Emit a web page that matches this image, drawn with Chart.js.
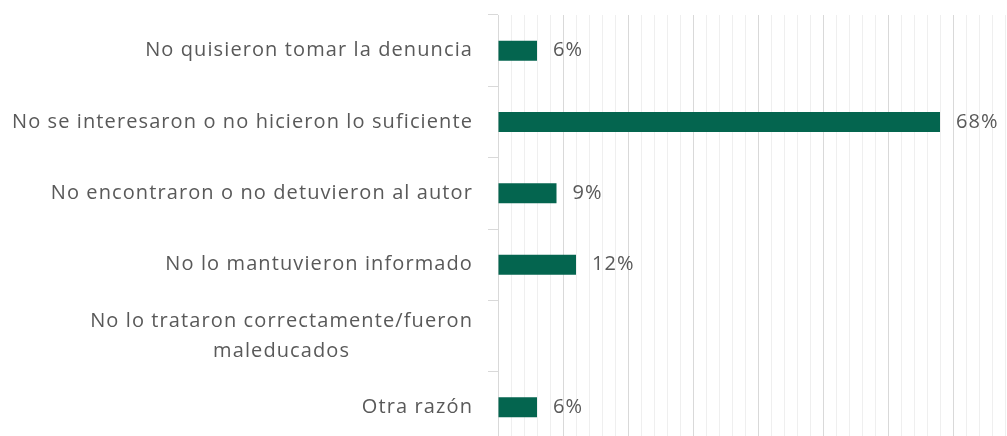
<!DOCTYPE html>
<html>
<head>
<meta charset="utf-8">
<script src="https://cdn.jsdelivr.net/npm/chart.js@4/dist/chart.umd.min.js"></script>
<style>
  html, body { margin: 0; padding: 0; background: #fff; }
  #wrap { width: 1007px; height: 436px; overflow: hidden; position: relative; }
  #chart { position: absolute; left: 0; top: 0; }
</style>
</head>
<body>
<div id="wrap"><canvas id="chart" width="1020" height="444"></canvas></div>
<script>
const razones = [
  'No quisieron tomar la denuncia',
  'No se interesaron o no hicieron lo suficiente',
  'No encontraron o no detuvieron al autor',
  'No lo mantuvieron informado',
  ['No lo trataron correctamente/fueron', 'maleducados'],
  'Otra razón'
];
const porcentajes = [6, 68, 9, 12, null, 6];

const textColor = '#595959';
const labelFont = '20px "Open Sans", sans-serif';
const spacing = '1.1px';

// etiquetas del eje y, alineadas a la derecha y centradas por línea
const yLabels = {
  id: 'yLabels',
  afterDraw(chart) {
    const ctx = chart.ctx, y = chart.scales.y;
    const right = y.right - 25;
    ctx.save();
    ctx.font = labelFont;
    ctx.letterSpacing = spacing;
    ctx.fillStyle = textColor;
    ctx.textAlign = 'center';
    ctx.textBaseline = 'middle';
    razones.forEach((lab, i) => {
      const lines = Array.isArray(lab) ? lab : [lab];
      const w = Math.max(...lines.map(l => ctx.measureText(l).width));
      const cy = y.getPixelForValue(i);
      const lh = 30;
      lines.forEach((l, j) => {
        ctx.fillText(l, right - w / 2, cy + (j - (lines.length - 1) / 2) * lh);
      });
    });
    ctx.restore();
  }
};

// valores al final de cada barra
const valueLabels = {
  id: 'valueLabels',
  afterDatasetsDraw(chart) {
    const ctx = chart.ctx;
    const meta = chart.getDatasetMeta(0);
    ctx.save();
    ctx.font = labelFont;
    ctx.letterSpacing = spacing;
    ctx.fillStyle = textColor;
    ctx.textAlign = 'left';
    ctx.textBaseline = 'middle';
    meta.data.forEach((bar, i) => {
      if (porcentajes[i] == null) return;
      ctx.fillText(porcentajes[i] + '%', bar.x + 16, bar.y);
    });
    ctx.restore();
  }
};

new Chart(document.getElementById('chart'), {
  type: 'bar',
  data: {
    labels: razones,
    datasets: [{
      data: porcentajes,
      backgroundColor: '#04654f',
      categoryPercentage: 1,
      barPercentage: 0.28
    }]
  },
  options: {
    indexAxis: 'y',
    responsive: false,
    animation: false,
    layout: { padding: { top: 15, right: 2, bottom: 1, left: 0 } },
    plugins: { legend: { display: false }, tooltip: { enabled: false } },
    scales: {
      x: {
        min: 0, max: 80,
        ticks: { display: false, stepSize: 2 },
        border: { display: false },
        grid: {
          drawTicks: false,
          color: c => (c.tick && c.tick.value % 10 === 0) ? '#d9d9d9' : '#efefef'
        }
      },
      y: {
        ticks: { display: false },
        afterFit: s => { s.width = 498; },
        border: { display: true, color: '#d9d9d9' },
        grid: { drawOnChartArea: false, drawTicks: true, tickLength: 10, offset: true, color: '#d9d9d9' }
      }
    }
  },
  plugins: [yLabels, valueLabels]
});
</script>
</body>
</html>
